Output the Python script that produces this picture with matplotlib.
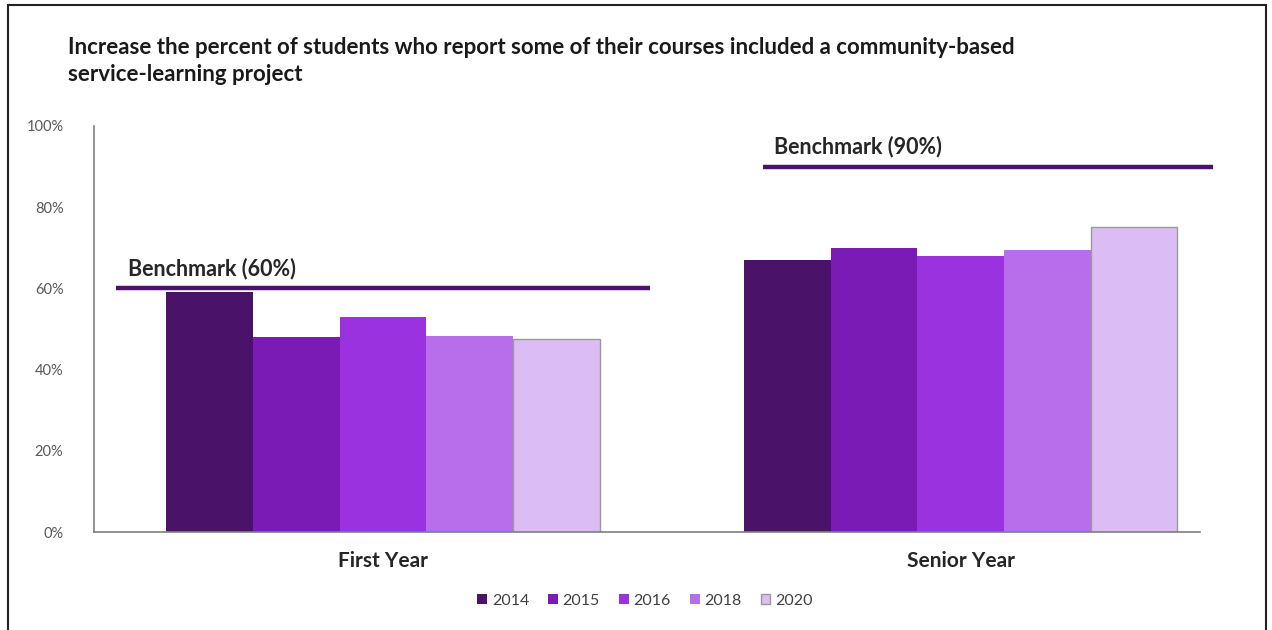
import matplotlib
matplotlib.use("Agg")
import matplotlib.pyplot as plt
import numpy as np
from matplotlib.ticker import PercentFormatter
from matplotlib.patches import Rectangle

plt.rcParams['font.family'] = ['Lato', 'DejaVu Sans']

categories = ["First Year", "Senior Year"]
years = ["2014", "2015", "2016", "2018", "2020"]
values = {
    "2014": [59, 67],
    "2015": [48, 70],
    "2016": [53, 68],
    "2018": [48.3, 69.5],
    "2020": [47.5, 75],
}
colors = ["#4B1269", "#7A1BB5", "#9B32DF", "#B86EEA", "#DCBDF3"]
benchmarks = [60, 90]
benchmark_labels = ["Benchmark (60%)", "Benchmark (90%)"]
title = ("Increase the percent of students who report some of their courses included a community-based\n"
         "service-learning project")

fig = plt.figure(figsize=(12.72, 6.3), dpi=100)
ax = fig.add_axes([94/1272, 1-532/630, (1200-94)/1272, (532-126)/630])

x = np.arange(len(categories))
bw = 0.15
for i, (yr, c) in enumerate(zip(years, colors)):
    offs = (i - 2) * bw
    ec = "#9A9A9A" if yr == "2020" else c
    ax.bar(x + offs, values[yr], width=bw, color=c, edgecolor=ec,
           linewidth=1 if yr == "2020" else 0, label=yr, zorder=2)

# benchmark lines
bm_spans = [(-0.462, 0.462), (0.657, 1.436)]
for (x0, x1), bm, lab in zip(bm_spans, benchmarks, benchmark_labels):
    ax.plot([x0, x1], [bm, bm], color="#4B1269", lw=3.2, clip_on=False, zorder=3,
            solid_capstyle='butt')
    ax.text(x0 + 0.02, bm + 2.3, lab, fontsize=15.5, fontweight='bold', color="#262626",
            ha='left', va='bottom')

ax.set_ylim(0, 100)
ax.set_xlim(-0.5, 1.414)
ax.set_yticks([0, 20, 40, 60, 80, 100])
ax.yaxis.set_major_formatter(PercentFormatter(decimals=0))
ax.set_xticks(x)
ax.set_xticklabels(categories, fontsize=15, fontweight='bold', color="#262626")
ax.tick_params(axis='y', length=0, labelsize=10.5, colors="#595959", pad=22)
ax.tick_params(axis='x', length=0, pad=14)
for s in ["top", "right"]:
    ax.spines[s].set_visible(False)
ax.spines["left"].set_color("#7F7F7F")
ax.spines["bottom"].set_color("#7F7F7F")
ax.spines["left"].set_linewidth(1.2)
ax.spines["bottom"].set_linewidth(1.2)

fig.text(68/1272, 1-61/630, title, fontsize=16, fontweight='bold', color="#1a1a1a",
         ha='left', va='center', linespacing=1.35)

leg = fig.legend(loc='center', bbox_to_anchor=(645/1272, 1-601/630), ncol=5, frameon=False,
                 fontsize=11.5, handlelength=0.6, handleheight=0.6, handletextpad=0.3,
                 columnspacing=1.2)
for t in leg.get_texts():
    t.set_color("#404040")

# figure border
fig.patches.append(Rectangle((8/1272, -0.05), (1266-8)/1272, 1.05 - 5/630,
                             transform=fig.transFigure, fill=False, edgecolor="#222222",
                             linewidth=1.5))

fig.savefig("out.png", dpi=100)
